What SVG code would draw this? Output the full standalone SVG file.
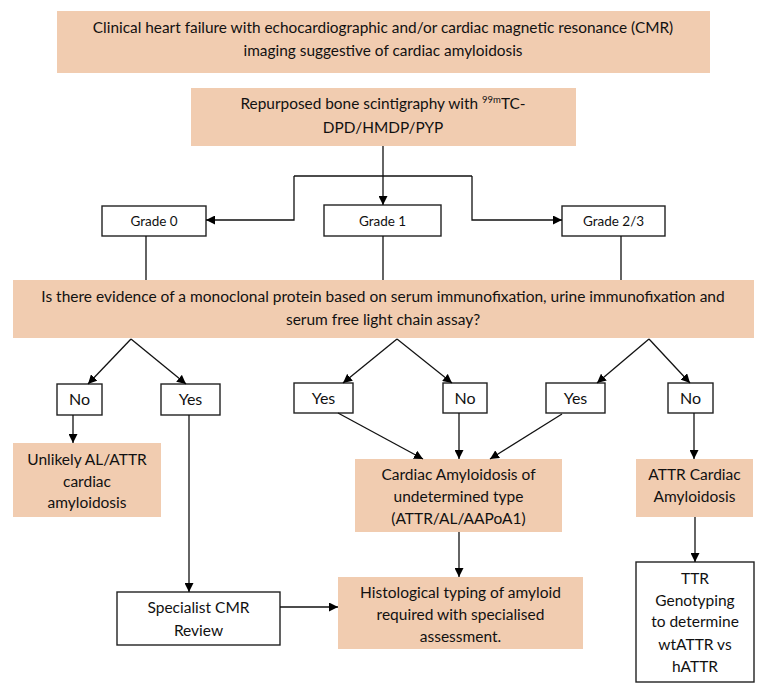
<svg xmlns="http://www.w3.org/2000/svg" width="767" height="691" viewBox="0 0 767 691">
<defs>
<marker id="arr" viewBox="0 0 10 10" refX="10" refY="5" markerWidth="9" markerHeight="9" markerUnits="userSpaceOnUse" orient="auto">
<path d="M0,0 L10,5 L0,10 Z" fill="#000"/>
</marker>
</defs>
<style>
.peach{fill:#F1CCB0;stroke:none}
.wbox{fill:#fff;stroke:#222;stroke-width:1.4}
text{font-family:Lato,"Liberation Sans",sans-serif;font-size:15.4px;fill:#111;text-anchor:middle}
.big{font-size:15.5px}
.q{font-size:15.5px}
.g{font-size:13.5px}
.lbl{font-size:16px}
.c{fill:none;stroke:#111;stroke-width:1.3}
.a{marker-end:url(#arr)}
</style>
<rect width="767" height="691" fill="#fff"/>
<g id="n-clinical">
<rect class="peach" x="57" y="11" width="653" height="62"/>
<text x="383" y="33">Clinical heart failure with echocardiographic and/or cardiac magnetic resonance (CMR)</text>
<text x="383" y="56">imaging suggestive of cardiac amyloidosis</text>
</g>
<g id="n-scint">
<rect class="peach" x="191" y="88" width="385" height="58"/>
<text x="383" y="109">Repurposed bone scintigraphy with <tspan font-size="9.5" dy="-6">99m</tspan><tspan dy="6">TC-</tspan></text>
<text x="383" y="133">DPD/HMDP/PYP</text>
</g>
<g id="n-grade0">
<rect class="wbox" x="102" y="206" width="104" height="30"/>
<text class="g" x="154" y="226">Grade 0</text>
</g>
<g id="n-grade1">
<rect class="wbox" x="324" y="205" width="117" height="31"/>
<text class="g" x="382.5" y="226">Grade 1</text>
</g>
<g id="n-grade23">
<rect class="wbox" x="562" y="206" width="103" height="30"/>
<text class="g" x="613.5" y="226">Grade 2/3</text>
</g>
<g id="n-question">
<rect class="peach" x="13" y="280" width="741" height="58"/>
<text class="q" x="383" y="302">Is there evidence of a monoclonal protein based on serum immunofixation, urine immunofixation and</text>
<text class="q" x="383" y="325">serum free light chain assay?</text>
</g>
<g id="n-no1">
<rect class="wbox" x="57" y="384" width="45" height="31"/>
<text class="lbl" x="79.5" y="405">No</text>
</g>
<g id="n-yes1">
<rect class="wbox" x="161" y="384" width="59" height="31"/>
<text class="lbl" x="190.5" y="405">Yes</text>
</g>
<g id="n-yes2">
<rect class="wbox" x="294" y="383" width="59" height="30"/>
<text class="lbl" x="323.5" y="404">Yes</text>
</g>
<g id="n-no2">
<rect class="wbox" x="443" y="383" width="44" height="30"/>
<text class="lbl" x="465" y="404">No</text>
</g>
<g id="n-yes3">
<rect class="wbox" x="546" y="383" width="59" height="30"/>
<text class="lbl" x="575.5" y="404">Yes</text>
</g>
<g id="n-no3">
<rect class="wbox" x="668" y="383" width="45" height="30"/>
<text class="lbl" x="690.5" y="404">No</text>
</g>
<g id="n-unlikely">
<rect class="peach" x="13" y="443" width="148" height="74"/>
<text class="big" x="87" y="465">Unlikely AL/ATTR</text>
<text class="big" x="87" y="487">cardiac</text>
<text class="big" x="87" y="508">amyloidosis</text>
</g>
<g id="n-undetermined">
<rect class="peach" x="355" y="459" width="207" height="73"/>
<text class="big" x="458.5" y="480">Cardiac Amyloidosis of</text>
<text class="big" x="458.5" y="502">undetermined type</text>
<text class="big" x="458.5" y="524">(ATTR/AL/AAPoA1)</text>
</g>
<g id="n-attr">
<rect class="peach" x="636" y="459" width="117" height="58"/>
<text class="big" x="694.5" y="480">ATTR Cardiac</text>
<text class="big" x="694.5" y="502">Amyloidosis</text>
</g>
<g id="n-histo">
<rect class="peach" x="338" y="577" width="245" height="72"/>
<text class="big" x="460.5" y="598">Histological typing of amyloid</text>
<text class="big" x="460.5" y="620">required with specialised</text>
<text class="big" x="460.5" y="642">assessment.</text>
</g>
<g id="n-specialist">
<rect class="wbox" x="117" y="592" width="163" height="53"/>
<text class="big" x="198.5" y="613">Specialist CMR</text>
<text class="big" x="198.5" y="636">Review</text>
</g>
<g id="n-ttr">
<rect class="wbox" x="636" y="562" width="118" height="120"/>
<text class="big" x="695" y="584">TTR</text>
<text class="big" x="695" y="606">Genotyping</text>
<text class="big" x="695" y="627">to determine</text>
<text class="big" x="695" y="650">wtATTR vs</text>
<text class="big" x="695" y="672">hATTR</text>
</g>
<g id="connectors">
<path class="c a" d="M383,146 V205"/>
<path class="c" d="M294,176 H472"/>
<path class="c a" d="M294,176 V220 H206"/>
<path class="c a" d="M472,176 V220 H562"/>
<path class="c" d="M146,236 V280 M383,236 V280 M621,236 V280"/>
<path class="c a" d="M131,339 L88,384"/>
<path class="c a" d="M131,339 L186,384"/>
<path class="c a" d="M397,339 L343,383"/>
<path class="c a" d="M397,339 L452,383"/>
<path class="c a" d="M649,339 L597,383"/>
<path class="c a" d="M649,339 L690,383"/>
<path class="c a" d="M73,415 V443"/>
<path class="c a" d="M189,415 V592"/>
<path class="c a" d="M338,413 L423,459"/>
<path class="c a" d="M459,413 V459"/>
<path class="c a" d="M562,414 L490,459"/>
<path class="c a" d="M694,413 V459"/>
<path class="c a" d="M459,532 V577"/>
<path class="c a" d="M695,517 V562"/>
<path class="c a" d="M280,607 H338"/>
</g>
</svg>
